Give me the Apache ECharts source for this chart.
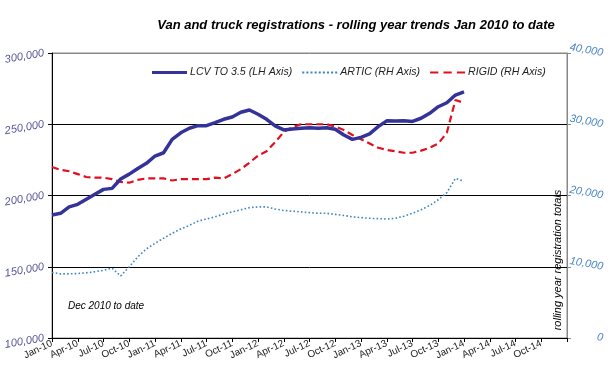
<!DOCTYPE html>
<html>
<head>
<meta charset="utf-8">
<script src="https://cdn.jsdelivr.net/npm/echarts@6/dist/echarts.min.js"></script>
<style>
html,body{margin:0;padding:0;background:#fff;}
#chart{width:612px;height:382px;}
</style>
</head>
<body>
<div id="chart"></div>
<script>
// Month categories Jan-10 .. Jan-15 (axis range)
const monthNames = ['Jan','Feb','Mar','Apr','May','Jun','Jul','Aug','Sep','Oct','Nov','Dec'];
const categories = [];
for (let y = 10; y <= 14; y++) {
  for (let m = 0; m < 12; m++) categories.push(monthNames[m] + '-' + y);
}
categories.push('Jan-15');

// LCV TO 3.5 (left axis), monthly Jan-10 .. Jan-14
const lcv = [186300,187500,192000,193800,197300,200800,204300,205000,211600,215000,219000,222600,
  227700,230000,239400,244000,247200,249000,249000,251100,253500,255100,258400,260000,
  257000,253500,248800,246000,246700,247200,247600,247200,247500,246500,242500,239400,
  240800,243200,248300,252400,252300,252500,252000,254200,257700,262300,265100,270500,272800];

// ARTIC (right axis)
const artic = [9200,9000,9000,9050,9150,9300,9500,9800,8700,10000,11400,12500,
  13300,14000,14700,15300,15800,16400,16700,17000,17400,17700,18000,18300,
  18400,18400,18100,17900,17800,17700,17600,17500,17500,17350,17200,17000,
  16900,16800,16750,16700,16800,17100,17500,18000,18600,19400,20400,22400,22000];

// RIGID (right axis)
const rigid = [24000,23600,23400,23000,22600,22500,22500,22300,21900,21800,22200,22400,
  22400,22400,22100,22300,22300,22300,22300,22500,22400,23000,23700,24600,
  25600,26200,27500,28900,29600,30000,30000,30000,30000,29700,29200,28500,
  27900,27300,26700,26400,26200,26000,26000,26300,26700,27300,28800,33400,33000];

const seriesNames = ['LCV TO 3.5 (LH Axis)', 'ARTIC (RH Axis)', 'RIGID (RH Axis)'];

const FONT = '"Liberation Sans", Arial, sans-serif';
const chart = echarts.init(document.getElementById('chart'), null, {renderer: 'canvas'});

const fmt = v => v.toLocaleString('en-US');

// legend icon shapes (line, dotted, dashed)
let dots = 'path://';
for (let i = 0; i < 9; i++) dots += 'M' + (i * 4) + ',0h2v2h-2z ';
const dashes = 'path://M0,0h8v2h-8z M13,0h8v2h-8z M26,0h8v2h-8z';

chart.setOption({
  animation: false,
  backgroundColor: '#fff',
  textStyle: {fontFamily: FONT},
  title: {
    text: 'Van and truck registrations - rolling year trends Jan 2010 to date',
    left: 351, top: 14, textAlign: 'center',
    textStyle: {fontFamily: FONT, fontSize: 13, fontWeight: 'bold', fontStyle: 'italic', color: '#000'}
  },
  legend: {
    data: [
      {name: seriesNames[0], icon: 'rect'},
      {name: seriesNames[1], icon: dots},
      {name: seriesNames[2], icon: dashes}
    ],
    left: 152, top: 67, padding: 0,
    itemWidth: 35, itemHeight: 3, itemGap: 10,
    textStyle: {fontFamily: FONT, fontSize: 10.6, fontStyle: 'italic', color: '#222', padding: [0, 0, 0, -2]}
  },
  grid: {left: 52, right: 45, top: 53, bottom: 44, containLabel: false,
    show: true, borderColor: '#888', borderWidth: 1},
  xAxis: {
    type: 'category', data: categories, boundaryGap: false,
    axisLine: {lineStyle: {color: '#000', width: 1}},
    axisTick: {show: true, interval: 2, length: 4, lineStyle: {color: '#000'}},
    axisLabel: {interval: 2, rotate: 25, fontSize: 10, color: '#222', fontFamily: FONT, margin: 5,
      formatter: (v, i) => (i === categories.length - 1 ? '' : v)},
    splitLine: {show: false}
  },
  yAxis: [{
    type: 'value', min: 100000, max: 300000, interval: 50000, position: 'left',
    axisLine: {show: true, lineStyle: {color: '#000', width: 1}},
    axisTick: {show: true, length: 4, lineStyle: {color: '#000'}},
    axisLabel: {formatter: fmt, fontSize: 11, fontStyle: 'italic', color: '#55559a', rotate: 10, margin: 8, fontFamily: FONT},
    splitLine: {show: true, lineStyle: {color: ['#000','#000','#000','#000','#888'], width: 1}}
  }, {
    type: 'value', min: 0, max: 40000, interval: 10000, position: 'right',
    axisLine: {show: true, lineStyle: {color: '#888', width: 1}},
    axisTick: {show: true, length: 4, lineStyle: {color: '#888'}},
    axisLabel: {formatter: fmt, fontSize: 11, fontStyle: 'italic', color: '#4a86c5', rotate: -10, margin: 36, align: 'right', fontFamily: FONT},
    splitLine: {show: false}
  }],
  graphic: [{
    type: 'text', left: 68, top: 301,
    style: {text: 'Dec 2010 to date', font: 'italic 10px ' + FONT, fill: '#000'}
  }, {
    type: 'text', x: 558, y: 260, rotation: Math.PI / 2,
    style: {text: 'rolling year registration totals', font: 'italic 11px ' + FONT, fill: '#000',
      textAlign: 'center', textVerticalAlign: 'middle'}
  }],
  series: [{
    name: seriesNames[0], type: 'line', yAxisIndex: 0, data: lcv,
    showSymbol: false, symbol: 'none', smooth: false,
    lineStyle: {color: '#333399', width: 3.5},
    itemStyle: {color: '#333399'}, z: 3
  }, {
    name: seriesNames[1], type: 'line', yAxisIndex: 1, data: artic,
    showSymbol: false, symbol: 'none',
    lineStyle: {color: '#3d86c6', width: 1.6, type: [1.6, 2.2]},
    itemStyle: {color: '#3d86c6'}, z: 2
  }, {
    name: seriesNames[2], type: 'line', yAxisIndex: 1, data: rigid,
    showSymbol: false, symbol: 'none',
    lineStyle: {color: '#e0101e', width: 2.2, type: [7, 4]},
    itemStyle: {color: '#e0101e'}, z: 2
  }]
});
</script>
</body>
</html>
